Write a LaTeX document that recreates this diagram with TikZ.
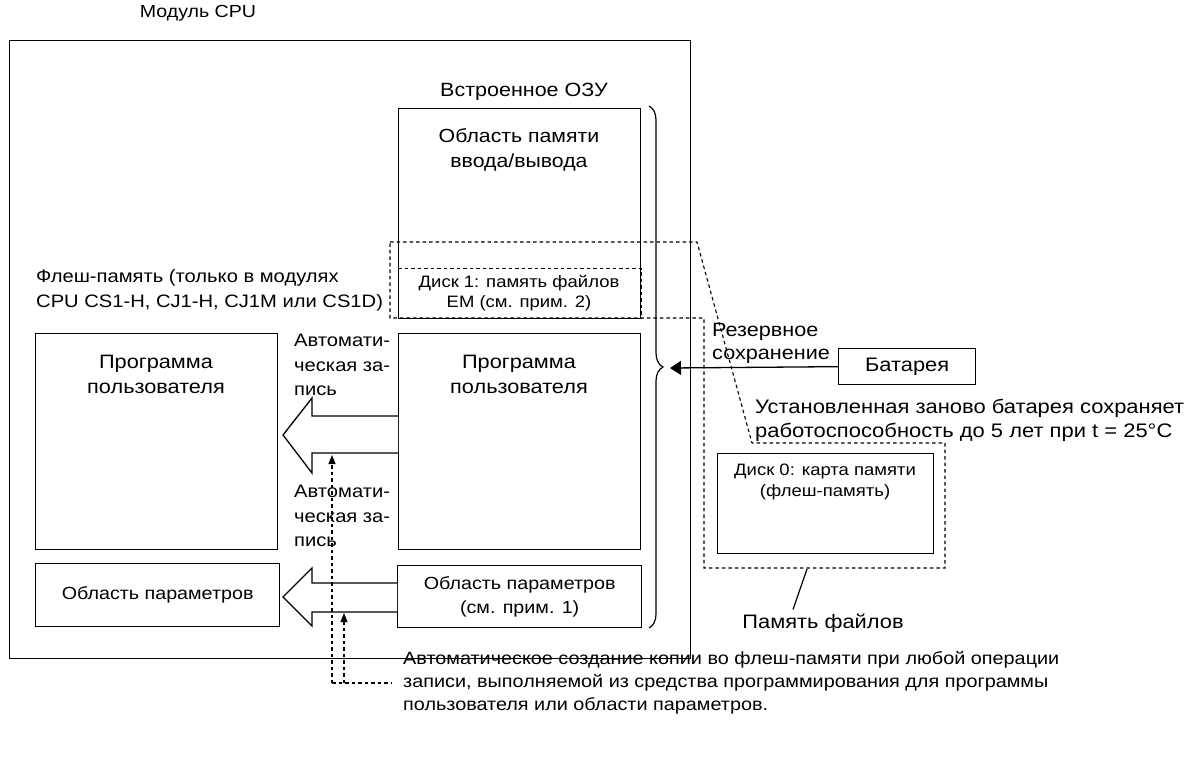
\documentclass[tikz,border=0pt]{standalone}
\usepackage{fontspec}
\setmainfont{Liberation Sans}[FakeStretch=1.12]
\usetikzlibrary{arrows.meta,decorations.pathreplacing,calc}
\newcommand{\fsz}[1]{\fontsize{#1}{24}\selectfont}
\begin{document}
\begin{tikzpicture}[x=1pt,y=-1pt,
  font=\fsz{18.5},
  box/.style={draw, line width=1.3pt, inner sep=0pt, anchor=north west, align=center},
  dsh/.style={line width=1.1pt, dash pattern=on 3.5pt off 3pt},
  txt/.style={inner sep=0pt, align=center},
  ltxt/.style={inner sep=0pt, align=left, anchor=west},
  small/.style={font=\fontsize{16.5}{20.5}\selectfont},
  bigarrow/.style={line width=1.3pt, line join=miter, fill=white},
  dtip/.style={-{Triangle[length=9pt,width=7pt]}}
]
\useasboundingbox (0,0) rectangle (1196,769);

\node[txt, font=\fsz{17.5}] (title) at (198,13) {Модуль CPU};
\node[box, line width=1pt, minimum width=681pt, minimum height=618pt] (cpu) at (9,40) {};

\node[txt, font=\fsz{19.2}] (ram) at (524,92) {Встроенное ОЗУ};
\node[box, minimum width=242pt, minimum height=210pt] (io) at (398,108) {};
\node[txt, font=\fontsize{19}{25}\selectfont] (iot) at (519,150) {Область памяти\\ввода/вывода};
\node[box, dsh, minimum width=243pt, minimum height=50pt] (em) at (398,268) {};
\node[txt, small] (emt) at (519,293) {Диск 1: память файлов\\EM (см. прим. 2)};

\draw[dsh] (390,242) -- (697,242) -- (752,443) -- (945,443) -- (945,568)
  -- (704,568) -- (704,318) -- (390,318) -- cycle;

\node[ltxt, font=\fontsize{18}{25}\selectfont] (flash) at (36,290) {Флеш-память (только в модулях\\CPU CS1-H, CJ1-H, CJ1M или CS1D)};

\node[box, minimum width=242pt, minimum height=216pt] (progL) at (35,333) {};
\node[txt, font=\fontsize{19.4}{25}\selectfont] (progLt) at (156,374) {Программа\\пользователя};
\node[box, minimum width=242pt, minimum height=216pt] (progR) at (398,333) {};
\node[txt, font=\fontsize{19.4}{25}\selectfont] (progRt) at (519,374) {Программа\\пользователя};

\draw[bigarrow] (progR.west |- 0,416) -- (312,416) -- (312,398) -- (283,435)
  -- (312,473) -- (312,453) -- (progR.west |- 0,453);
\node[ltxt, font=\fontsize{18}{24.5}\selectfont] (auto1) at (294,365) {Автомати-\\ческая за-\\пись};

\node[box, font=\fsz{17.6}, minimum width=244pt, minimum height=63pt] (parL) at (35,563) {Область параметров};
\node[box, font=\fontsize{17.6}{24}\selectfont, minimum width=244pt, minimum height=62pt] (parR) at (397,565) {Область параметров\\(см. прим. 1)};

\draw[bigarrow] (parR.west |- 0,583) -- (312,583) -- (312,568) -- (283,597)
  -- (312,626) -- (312,612) -- (parR.west |- 0,612);
\node[ltxt, font=\fontsize{18}{24.5}\selectfont] (auto2) at (294,516) {Автомати-\\ческая за-\\пись};

\draw[line width=1.2pt, decorate, decoration={brace, amplitude=14pt}] (649,106) -- (649,628);
\coordinate (btip) at (670,368);

\node[box, font=\fsz{19.5}, minimum width=137pt, minimum height=36pt] (bat) at (838,348) {Батарея};
\draw[line width=1.3pt, -{Triangle[length=11pt,width=14pt]}] (bat.west) -- (btip);
\node[ltxt, font=\fontsize{19.3}{23}\selectfont] (rez) at (712,343) {Резервное\\сохранение};
\node[ltxt, font=\fontsize{19.6}{24}\selectfont] (inst) at (755,420) {Установленная заново батарея сохраняет\\работоспособность до 5 лет при t = 25°C};

\node[box, minimum width=216pt, minimum height=100pt] (d0) at (717,453) {};
\node[txt, small] (d0t) at (825,482) {Диск 0: карта памяти\\(флеш-память)};

\node[txt, font=\fsz{19.5}] (fm) at (823,623) {Память файлов};
\coordinate (fmtop) at (807,569);
\draw[line width=1.2pt] (fmtop) -- ($(fm.north)+(-30,-4)$);

\coordinate (c1) at (332,683);
\coordinate (c2) at (344,683);
\coordinate (c3) at (392,683);
\draw[dsh, dtip] (c1) -- (332,455);
\draw[dsh, dtip] (c2) -- (344,613);
\draw[dsh] (c1) -- (c3);
\node[ltxt, font=\fontsize{17.7}{23}\selectfont] (note) at (403,683) {Автоматическое создание копии во флеш-памяти при любой операции\\записи, выполняемой из средства программирования для программы\\пользователя или области параметров.};
\end{tikzpicture}
\end{document}
